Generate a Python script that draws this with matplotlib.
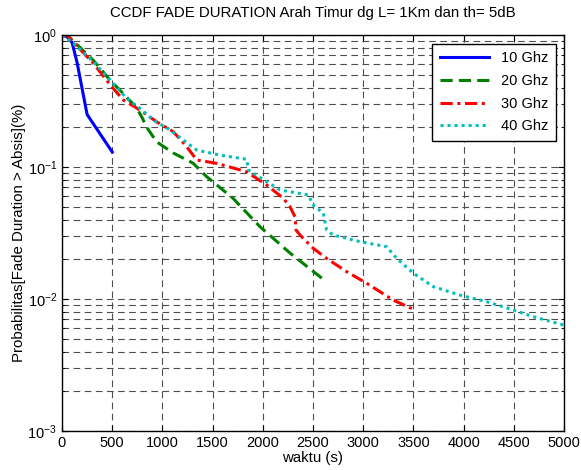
import matplotlib
matplotlib.use("Agg")
import matplotlib.pyplot as plt
import numpy as np

plt.rcParams['font.family'] = ['Liberation Sans', 'DejaVu Sans']

title = "CCDF FADE DURATION Arah Timur dg L= 1Km dan th= 5dB"
xlabel = "waktu (s)"
ylabel = "Probabilitas[Fade Duration > Absis](%)"
labels = ["10 Ghz", "20 Ghz", "30 Ghz", "40 Ghz"]

x10 = [0, 50, 100, 150, 250, 500]
y10 = [1.0, 0.97, 0.88, 0.62, 0.25, 0.13]

x20 = [0, 50, 309, 478, 595, 744, 794, 844, 943, 1106, 1305, 1441, 1703, 1972, 2271, 2587]
y20 = [1.0, 1.0, 0.647, 0.456, 0.37, 0.28, 0.24, 0.20, 0.155, 0.128, 0.107, 0.0845, 0.058, 0.0353, 0.0223, 0.0144]

x30 = [0, 47, 312, 495, 611, 777, 943, 1109, 1242, 1342, 1541, 1840, 2039, 2204, 2271, 2321, 2331,
       2371, 2503, 2636, 2836, 3035, 3300, 3516]
y30 = [1.0, 1.0, 0.61, 0.406, 0.322, 0.27, 0.22, 0.185, 0.1425, 0.113, 0.1066, 0.092, 0.073, 0.058,
       0.050, 0.042, 0.0333, 0.0305, 0.0242, 0.0203, 0.0161, 0.01315, 0.0098, 0.00826]

x40 = [0, 113, 312, 478, 644, 777, 909, 1076, 1208, 1341, 1574, 1840, 1856, 2039, 2171, 2453, 2503,
       2603, 2636, 2702, 2968, 3234, 3334, 3499, 3698, 3964, 4230, 4495, 4694, 5000]
y40 = [1.0, 0.865, 0.628, 0.456, 0.331, 0.278, 0.227, 0.191, 0.160, 0.1345, 0.123, 0.1144, 0.095,
       0.0774, 0.067, 0.0614, 0.0515, 0.0446, 0.0333, 0.0305, 0.0272, 0.0249, 0.0203, 0.0157, 0.0124,
       0.0107, 0.00954, 0.00826, 0.00734, 0.00635]

xticks = [0, 500, 1000, 1500, 2000, 2500, 3000, 3500, 4000, 4500, 5000]

fig = plt.figure(figsize=(5.81, 4.70), dpi=100)
ax = fig.add_axes([0.1067, 0.083, 0.864, 0.8425])

lw = 2.2
ax.plot(x10, y10, color='#0000ff', lw=lw, linestyle='-', label=labels[0])
ax.plot(x20, y20, color='#008000', lw=lw, linestyle=(0, (4, 2)), label=labels[1])
ax.plot(x30, y30, color='#ff0000', lw=lw, linestyle=(0, (4, 1.5, 1, 1.5)), label=labels[2])
ax.plot(x40, y40, color='#00bfbf', lw=lw, linestyle=(0, (1, 1.3)), label=labels[3])

ax.set_yscale('log')
ax.set_xlim(0, 5000)
ax.set_ylim(1e-3, 1)
ax.set_xticks(xticks)
ax.set_xticklabels([str(v) for v in xticks])

ax.grid(True, which='major', color='0.3', linestyle=(0, (6, 4)), linewidth=0.8)
ax.grid(True, which='minor', axis='y', color='0.3', linestyle=(0, (6, 4)), linewidth=0.8)

ax.tick_params(which='both', direction='in', top=True, right=True, labelsize=10.5, colors='black')
ax.tick_params(which='major', length=4)
ax.tick_params(which='minor', length=2)
for s in ax.spines.values():
    s.set_linewidth(1.0)

ax.set_title(title, fontsize=10.8, pad=13)
ax.set_xlabel(xlabel, fontsize=10.8, labelpad=1)
ax.set_ylabel(ylabel, fontsize=10.8, labelpad=1)

leg = ax.legend(loc='upper right', fontsize=10.5, frameon=True, fancybox=False,
                edgecolor='black', framealpha=1, handlelength=3.4, borderpad=0.5,
                labelspacing=0.6, handletextpad=0.8, bbox_to_anchor=(0.998, 0.996))
leg.get_frame().set_linewidth(1.0)

fig.savefig('out.png', dpi=100)
